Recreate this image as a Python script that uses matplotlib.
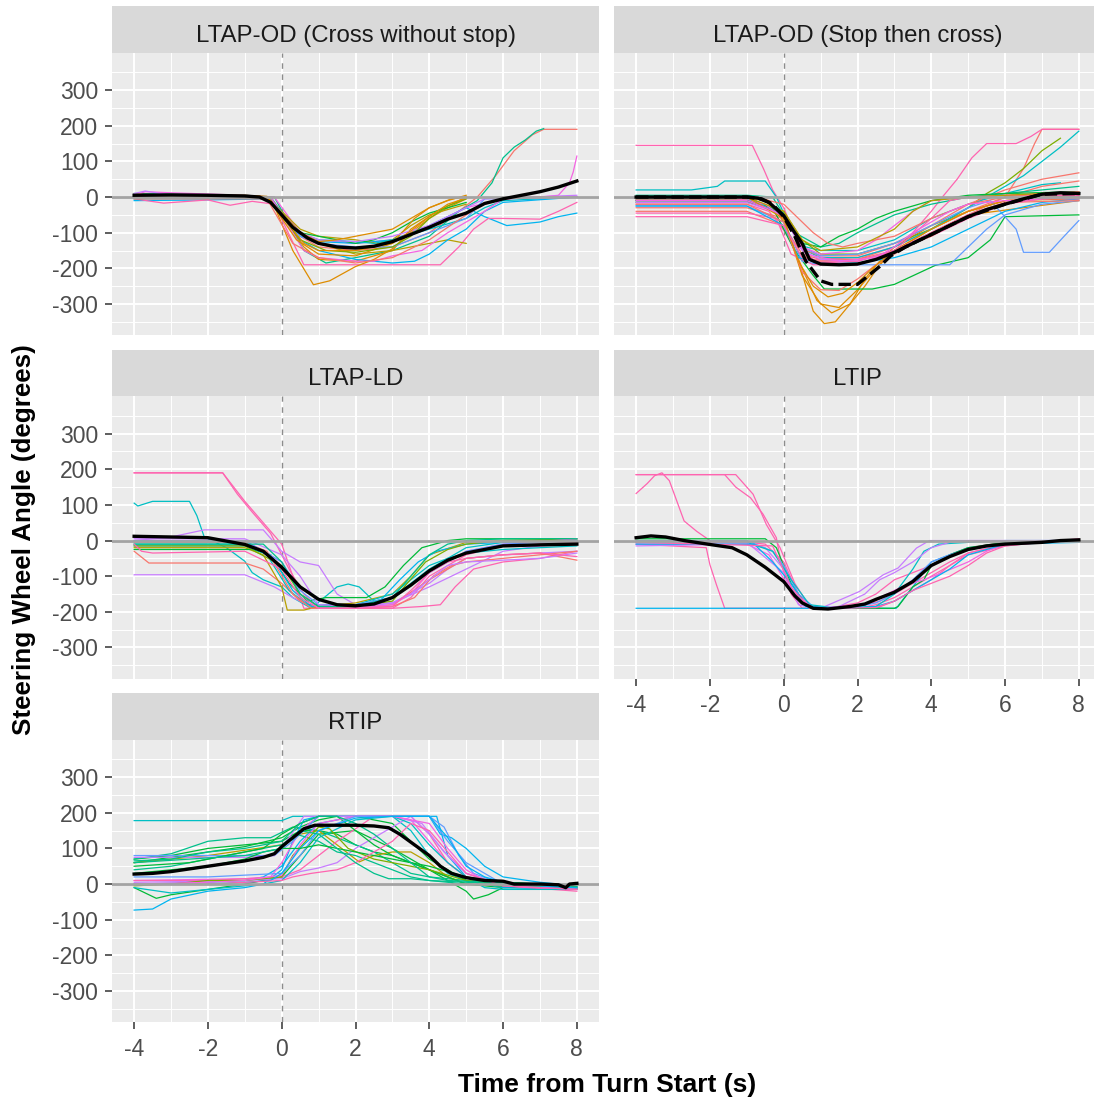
import matplotlib
matplotlib.use("Agg")
import matplotlib.pyplot as plt

plt.rcParams['axes.unicode_minus'] = False
plt.rcParams['font.family'] = ['Liberation Sans', 'DejaVu Sans']

# ---------------- data ----------------
PANEL_TITLES = ['LTAP-OD (Cross without stop)', 'LTAP-OD (Stop then cross)',
                'LTAP-LD', 'LTIP', 'RTIP']
X_MAJOR = [-4, -2, 0, 2, 4, 6, 8]
X_TICK_LABELS = ['-4', '-2', '0', '2', '4', '6', '8']
X_MINOR = [-3, -1, 1, 3, 5, 7]
Y_MAJOR = [-300, -200, -100, 0, 100, 200, 300]
Y_TICK_LABELS = ['-300', '-200', '-100', '0', '100', '200', '300']
Y_MINOR = [-350, -250, -150, -50, 50, 150, 250, 350]

PALETTE = ['#F8766D', '#DE8C00', '#B79F00', '#7CAE00', '#00BA38', '#00C08B',
           '#00BFC4', '#00B4F0', '#619CFF', '#C77CFF', '#F564E3', '#FF64B0']

# (participant, time breakpoints, angle values)
OD_CROSS = [
    (0, [-4,-1,-0.3,0.5,1,2,3,4,4.8,5.3,5.8,6.3,6.8,7.1,8], [0,2,0,-110,-140,-150,-140,-100,-40,0,60,130,175,190,190]),
    (5, [-4,-1,-0.2,0.6,1.2,2,3,4,4.8,5.3,5.7,6,6.3,6.6,6.9,7.1], [10,5,0,-150,-185,-170,-150,-110,-40,-10,40,110,140,160,185,192]),
    (10, [-4,-3.7,-3,-1,-0.2,0.5,1,2,3,4,5,6,7,7.5,7.8,7.9,8], [5,15,12,5,0,-100,-120,-130,-120,-80,-30,-5,0,5,40,70,115]),
    (7, [-4,-2,-0.3,0.5,1,2,3,4,5,5.5,6.1,7,7.5,8], [-10,-8,-5,-110,-125,-130,-120,-80,-30,-55,-80,-70,-55,-45]),
    (11, [-4,-3.2,-2,-1.4,-0.8,-0.2,0.6,4.3,4.8,5.2,5.6,6,7,7.5,8], [-5,-17,-8,-23,-12,-20,-190,-190,-140,-90,-60,-60,-62,-40,-15]),
    (1, [-4,-1,-0.3,0.3,0.86,1.3,2,2.5,3,3.5,4,4.5,5], [0,3,0,-150,-246,-235,-195,-175,-145,-100,-60,-30,-5]),
    (1, [-4,-1,-0.3,0.6,1,2,3,3.5,4.2,5], [5,5,0,-140,-175,-180,-150,-90,-40,0]),
    (2, [-4,-0.4,0.5,1,2,2.6,3,3.5,4,5], [0,0,-90,-110,-120,-130,-120,-80,-50,-20]),
    (2, [-4,-0.4,0.5,1,2,3,4,4.5,5], [3,0,-100,-130,-160,-150,-130,-120,-130]),
    (4, [-4,-0.4,0.5,1,2,2.5,3,3.5,4,5], [0,0,-100,-110,-130,-120,-100,-70,-45,-15]),
    (6, [-4,-0.4,0.4,1,2,2.5,3,4,5,5.5,6,8], [-5,-3,-100,-120,-125,-130,-120,-90,-60,-30,-10,0]),
    (7, [-4,-0.3,0.5,1,2,3,3.6,4,4.5,5,5.5,6,8], [0,0,-120,-150,-175,-185,-180,-160,-120,-90,-40,-15,0]),
    (10, [-4,-0.3,0.6,1,2,2.5,3,3.8,4.5,5,5.5,6,8], [0,0,-150,-170,-180,-180,-165,-150,-100,-70,-40,-5,0]),
    (1, [-4,-0.4,0.4,1,2,3,3.6,4,4.6,5], [8,2,-120,-160,-165,-130,-60,-30,-5,0]),
    (8, [-4,-0.4,0.5,1,2,3,4,5,5.5,8], [0,0,-110,-130,-140,-140,-100,-60,-5,0]),
    (9, [-4,-3.7,-3,-0.4,0.5,1,2,3,4,5,5.5,8], [10,17,5,0,-100,-120,-125,-110,-80,-30,-5,5]),
    (3, [-4,-0.4,0.5,1.2,2,3,3.5,4,4.5,5], [0,0,-120,-150,-155,-140,-110,-60,-25,-5]),
    (0, [-4,-0.4,0.3,1,2,3,4,5,5.5,6,7,8], [-5,-5,-130,-170,-185,-170,-120,-50,-20,-5,0,0]),
    (1, [-4,-0.4,0.5,1,1.5,2,3,3.5,4,4.5,5], [0,0,-100,-125,-120,-110,-90,-60,-30,-10,5]),
    (1, [-4,-0.4,0.6,1,2,3,3.5,4,4.5,5], [0,0,-130,-150,-150,-130,-95,-55,-20,-3]),
]
OD_CROSS_MEAN_T = [-4,-3,-2,-1,-0.6,-0.3,0,0.3,0.7,1,1.5,2,2.5,3,3.5,4,4.5,5,5.5,6,6.5,7,7.5,8]
OD_CROSS_MEAN_V = [5,6,5,3,0,-15,-50,-85,-115,-130,-140,-143,-138,-125,-105,-85,-62,-45,-18,-5,5,15,28,45]

OD_STOP = [
    (11, [-4,-0.85,-0.55,-0.3,0,0.4,0.8,2,3,4,5,6,7,8], [145,145,80,20,-30,-130,-180,-180,-150,-110,-60,-20,0,5]),
    (6, [-4,-2.5,-1.8,-1.6,-0.5,-0.2,0.2,0.6,1,2,3,4,5,6,7,7.5], [20,20,30,45,45,0,-90,-140,-150,-150,-120,-60,-20,10,35,40]),
    (1, [-4,-1,-0.5,0,0.4,0.8,1.1,1.4,1.8,2.2,2.6,3,3.5,4,5,6,7,8], [0,0,-10,-60,-180,-320,-355,-350,-300,-230,-180,-140,-110,-80,-40,-10,0,0]),
    (1, [-4,-1,-0.4,0,0.5,0.9,1.3,1.8,2.2,2.6,3,4,5,6,8], [0,0,-10,-70,-200,-290,-325,-300,-250,-190,-150,-90,-40,-10,-5]),
    (1, [-4,-0.5,0,0.5,1,1.5,2,2.5,3,4,5,8], [-5,-5,-60,-220,-300,-310,-260,-200,-150,-100,-50,-10]),
    (0, [-4,-0.8,-0.3,0.3,0.8,2,3,4,5,5.5,6,6.5,6.8,7,8], [-10,-10,-30,-150,-180,-175,-140,-90,-40,-20,0,80,150,190,190]),
    (11, [-4,-1,-0.4,0.2,0.8,2,3,3.5,4,4.3,4.7,5.1,5.5,6.3,6.7,7,8], [-20,-20,-40,-120,-175,-170,-140,-100,-40,0,50,110,150,150,170,190,190]),
    (3, [-4,-1,0,0.5,1,2,3,4,5,5.5,6,6.5,7,7.5], [-5,-5,-40,-120,-160,-160,-130,-90,-30,10,40,80,130,165]),
    (6, [-4,-0.8,0,0.6,1,2,3,4,5,5.5,6,6.5,7,7.5,8], [-10,-10,-50,-150,-170,-170,-140,-90,-30,0,30,60,100,140,185]),
    (0, [-4,-1,0,0.6,1,2,3,4,5,6,7,8], [-30,-30,-60,-150,-165,-165,-130,-80,-20,20,50,68]),
    (0, [-4,-1,0,0.5,1,2,3,4,5,6,7,8], [-40,-40,-80,-160,-175,-175,-150,-110,-50,0,30,45]),
    (4, [-4,-1,-0.3,0.3,0.8,1.1,2.4,3,4.1,5,5.6,6,8], [-15,-15,-30,-150,-220,-258,-258,-245,-192,-170,-120,-55,-50]),
    (8, [-4,-1,0,0.5,1,2,3,4,5,5.6,6.3,6.5,7.2,7.6,8], [-5,-5,-50,-140,-165,-160,-130,-80,-30,-10,-90,-155,-155,-110,-66]),
    (8, [-4,-1,0,0.5,1,2,3,4.5,5,5.5,6,7,8], [-25,-25,-70,-180,-190,-190,-190,-190,-140,-90,-50,-20,-10]),
    (10, [-4,-1.5,-0.5,0,0.5,1,2,2.5,3,3.5,4,5,6,7,8], [0,0,-20,-60,-140,-160,-150,-120,-80,-40,-10,0,5,10,10]),
    (5, [-4,-1,-0.3,0.3,1,1.5,2,3,4,5,6,7,8], [5,5,0,-100,-140,-130,-100,-50,-20,0,10,20,30]),
    (4, [-4,-1,0,0.5,1,1.5,2,2.5,3,4,5,6,8], [-10,-10,-50,-130,-140,-110,-90,-60,-40,-10,5,10,15]),
    (9, [-4,-1,0,0.5,1,2,3,4,5,6,7,8], [-15,-15,-50,-150,-175,-180,-150,-100,-50,-15,-5,0]),
    (11, [-4,-1,-0.2,0.2,0.8,2,3,4,4.5,5,6,8], [-45,-45,-60,-160,-190,-190,-150,-60,-10,0,5,5]),
    (0, [-4,-0.6,0,0.4,0.8,1.2,1.6,2,3,4,5,6,7,8], [-5,-5,-20,-60,-100,-130,-140,-130,-110,-60,-20,0,10,15]),
    (2, [-4,-1,0,0.5,1,2,3,3.5,4,5,6,7,8], [0,0,-40,-120,-150,-140,-90,-40,-10,0,5,10,10]),
    (7, [-4,-1,0,0.4,1,2,3,4,5,6,7,8], [-25,-25,-80,-170,-185,-185,-170,-140,-90,-40,-15,-5]),
    (0, [-4,-1,0,0.5,1,1.5,2,2.5,3,4,5,6,8], [-20,-20,-70,-210,-260,-262,-230,-190,-160,-100,-50,-15,-10]),
    (1, [-4,-1,0,0.4,0.8,1.2,1.6,2,2.4,3,4,5,6,8], [0,0,-60,-180,-250,-280,-270,-240,-200,-150,-90,-40,-10,0]),
    (11, [-4,-2.7,-1,0,0.5,1,2,3,4,5,6,7,8], [-55,-55,-55,-80,-170,-185,-180,-150,-100,-50,-20,-5,-5]),
    (10, [-4,-1,0,0.6,1.5,2.5,3,3.5,4,4.5,5,6,7,8], [-10,-10,-50,-160,-180,-170,-140,-100,-70,-40,-20,-10,-5,0]),
]
OD_STOP_MEAN_T = [-4,-2,-1,-0.7,-0.4,0,0.3,0.5,0.7,1,1.5,2,2.5,3,3.5,4,4.5,5,5.5,6,6.5,7,7.5,8]
OD_STOP_MEAN_V = [0,0,0,-3,-15,-52,-100,-130,-175,-188,-190,-188,-175,-155,-130,-105,-80,-55,-35,-20,-5,8,12,10]
OD_STOP_MEAN2_T = [-4,-1,-0.6,-0.3,0,0.3,0.6,1.0,1.3,2.0,2.3,2.6,2.9,3.3,4,5,6,7,8]
OD_STOP_MEAN2_V = [0,0,-5,-20,-55,-110,-180,-235,-245,-245,-220,-195,-165,-140,-105,-55,-20,8,10]

LD = [
    (11, [-4,-1.6,-1.3,-1,-0.5,0,0.3,0.6,2,3,3.5,4,5,6,7,8], [190,190,150,110,50,-10,-100,-190,-190,-190,-160,-100,-40,-15,-10,-5]),
    (11, [-4,-1.6,-1.2,-0.8,-0.3,0.2,0.6,1,3,3.8,4.3,4.7,5.2,6,7,8], [190,190,130,80,20,-80,-150,-190,-190,-185,-180,-130,-80,-60,-50,-30]),
    (6, [-4,-3.9,-3.5,-2.5,-2.3,-2.1,-1.5,-1,-0.8,-0.5,0,0.3,0.8,1.5,1.8,2.1,2.5,3,4,5,6,8],
        [105,97,110,110,70,10,-20,-58,-90,-110,-130,-160,-190,-130,-122,-130,-170,-160,-80,-20,-5,0]),
    (9, [-4,-1,-0.2,0.3,0.8,1.3,2,3,4,4.5,5,6,8], [-96,-96,-130,-160,-185,-190,-190,-175,-120,-80,-50,-40,-30]),
    (9, [-4,-3,-2.1,-0.5,0,0.5,1,1.5,2,3,4,5,6,7,8], [0,10,30,30,-30,-60,-70,-150,-180,-175,-130,-80,-30,-15,-10]),
    (0, [-4,-3.6,-1,-0.5,0,0.5,1,2,3,4,5,6,7,8], [-30,-63,-63,-80,-120,-170,-190,-190,-180,-110,-50,-40,-35,-55]),
    (2, [-4,-1,-0.5,0,0.15,0.6,1,2,3,3.5,4,5,6,8], [-20,-20,-40,-130,-195,-195,-185,-175,-150,-100,-40,-5,0,5]),
    (4, [-4,-0.8,-0.3,0.2,0.7,1.2,1.6,2.3,2.8,3.3,3.8,4.5,5,6,8], [-25,-25,-40,-120,-170,-160,-160,-160,-130,-70,-20,0,5,5,5]),
    (7, [-4,-1,-0.3,0.3,0.8,2,2.7,3.2,3.7,4.2,5,6,8], [-15,-15,-40,-140,-185,-185,-165,-110,-60,-30,-10,-5,0]),
    (6, [-4,-1,-0.4,0.2,0.7,2,3,3.5,4,4.5,5,6,7,8], [-10,-10,-40,-140,-180,-180,-150,-110,-70,-50,-35,-25,-20,-15]),
    (0, [-4,-1,-0.4,0.3,0.8,2,3,3.6,4.1,4.6,5,6,7,8], [-5,-5,-30,-150,-190,-190,-185,-160,-100,-70,-60,-50,-40,-30]),
    (10, [-4,-1,0,0.5,1,2,3,3.5,4,5,6,8], [0,0,-60,-150,-190,-190,-180,-150,-90,-30,-10,5]),
    (3, [-4,-1,0,0.5,1,2,3,3.4,3.9,4.5,5,6,8], [-15,-15,-70,-150,-185,-185,-170,-120,-60,-25,-10,0,0]),
    (8, [-4,-1,0,0.5,1,2,3,4,5,6,8], [0,0,-60,-140,-180,-180,-160,-90,-30,-10,0]),
    (9, [-4,-1,0,0.5,1,2,3,3.5,4,4.5,5,6,7,8], [5,5,-40,-100,-180,-185,-175,-150,-110,-70,-60,-55,-50,-35]),
    (5, [-4,-0.5,0,0.5,1,2,3,3.5,4,4.5,5,6,8], [-10,-10,-60,-150,-185,-185,-160,-100,-40,-10,0,5,5]),
    (11, [-4,-3.8,-3.5,-1,0,0.5,1,2,3,3.5,4,4.5,5,6,7,8], [-10,-30,-35,-30,-80,-160,-190,-190,-185,-140,-90,-60,-50,-40,-35,-45]),
]
LD_MEAN_T = [-4,-3,-2,-1,-0.5,0,0.5,1,1.5,2,2.5,3,3.5,4,4.5,5,5.5,6,7,8]
LD_MEAN_V = [12,10,8,-11,-30,-75,-130,-165,-180,-183,-178,-160,-125,-85,-55,-35,-25,-15,-12,-10]

LTIP = [
    (11, [-4,-1.6,-1.3,-0.9,-0.56,-0.2,-0.06,0.2,0.5,1,2,2.5,3,3.5,4,4.5,5,6,7,8], [185,185,150,120,74,8,-68,-150,-190,-190,-190,-180,-160,-130,-100,-70,-40,-15,-5,0]),
    (11, [-4,-1.3,-0.83,-0.47,-0.1,0.3,0.7,1,2.5,3,3.5,4,4.5,5,6,7,8], [185,185,130,45,-20,-120,-185,-190,-190,-170,-140,-110,-70,-35,-10,-5,0]),
    (11, [-4,-3.7,-3.5,-3.3,-3.1,-2.7,-2.36,-2,-1,-0.5,0,0.4,0.8,1.2,2,2.5,3,3.5,4,4.5,5,6,8],
         [132,160,182,190,168,55,26,0,-5,-10,-60,-150,-190,-190,-175,-150,-110,-90,-70,-40,-20,-5,0]),
    (11, [-4,-2.1,-2.0,-1.82,-1.6,1,2,2.6,3,3.5,4,4.5,5,6,7,8], [-10,-20,-68,-125,-190,-190,-185,-170,-150,-120,-90,-60,-35,-10,-5,5]),
    (7, [-4,3.05,3.5,4,4.5,5,6,7,8], [-190,-190,-130,-60,-40,-20,-10,-5,-5]),
    (9, [-4,-1,-0.5,0,0.3,0.6,1,2.05,2.7,3.1,3.6,3.95,8], [-15,-10,-20,-80,-150,-185,-190,-143,-96,-77,-21,0,0]),
    (4, [-4,-0.5,-0.2,0.2,0.6,1,2,3,3.1,3.5,3.8,4,4.5,5,6,8], [5,5,-20,-120,-180,-190,-190,-190,-185,-130,-110,-70,-40,-20,-5,0]),
    (8, [-4,-1,-0.3,0,0.4,0.8,1.5,2,2.5,3,3.5,4,4.5,5,6,8], [0,0,-30,-70,-150,-185,-190,-185,-175,-150,-110,-60,-40,-25,-10,0]),
    (6, [-4,-1,-0.3,0.2,0.7,1.5,2.5,3,3.5,3.8,4.2,5,6,8], [-5,-5,-30,-110,-180,-190,-185,-150,-80,-30,-10,-5,0,0]),
    (10, [-4,-1,-0.4,0.2,0.8,1.5,2.3,2.8,3.3,3.8,4.3,5,5.5,6,8], [-10,-10,-40,-140,-190,-190,-175,-150,-125,-110,-90,-60,-30,-10,0]),
    (9, [-4,-1,0,0.4,0.8,1.5,2.2,2.6,3,3.5,4,4.5,5,8], [-5,-5,-90,-180,-190,-185,-150,-110,-90,-60,-20,-5,0,0]),
    (7, [-4,-0.8,-0.3,0.2,0.6,1.5,2.5,3,3.5,4,4.5,5,6,8], [-10,-10,-60,-120,-185,-190,-185,-170,-140,-110,-80,-40,-10,-5]),
    (11, [-4,-0.3,0.2,0.7,1.5,2.5,3,3.5,4,4.5,5,5.5,6,7,8], [-5,-15,-130,-190,-190,-188,-170,-140,-120,-100,-70,-35,-15,-5,0]),
]
LTIP_MEAN_T = [-4,-3.6,-3.2,-2.7,-2,-1.4,-1,-0.5,0,0.3,0.5,0.8,1.2,1.8,2.2,2.5,3,3.5,4,4.5,5,5.5,6,7,7.5,8]
LTIP_MEAN_V = [8,13,10,0,-11,-20,-40,-75,-115,-155,-175,-190,-192,-185,-178,-165,-145,-115,-70,-45,-25,-15,-10,-5,0,2]

RTIP = [
    (6, [-4,0,0.3,1,2,3,3.5,4,4.5,5,6,8], [178,178,190,190,190,190,150,80,30,10,-5,-10]),
    (4, [-4,-3,-2,-1,-0.5,0,0.5,1,1.5,2,2.5,3,3.5,4,4.5,5,5.2,5.6,6,7,8], [70,80,100,110,115,120,150,150,140,110,90,80,60,40,10,-20,-42,-30,-10,-5,-10]),
    (4, [-4,-3,-2,-1,0,0.5,1,1.5,2,3,3.5,4,5,6,8], [60,75,90,105,130,160,180,190,190,170,120,70,10,0,-10]),
    (5, [-4,-3,-2,-1,-0.3,0.3,1,1.5,2,2.5,3,3.5,4,4.5,5,6,8], [70,85,120,130,130,160,150,130,110,90,60,30,20,15,10,5,-5]),
    (4, [-4,-3.4,-3,-2,-1,0,0.5,1,2,3,3.5,4,5,6,8], [-10,-40,-30,-15,0,20,80,140,150,100,70,40,0,-10,-10]),
    (7, [-4,-3.5,-3,-2,-1,-0.5,0,0.3,0.6,1,2,3,4,4.2,4.5,5,5.5,6,8], [-73,-70,-42,-20,-10,0,40,120,180,190,190,190,190,190,80,20,0,-10,-15]),
    (7, [-4,-2,-1,-0.5,0,0.5,1,2,3,4,4.3,4.6,5,5.5,6,7,8], [0,5,10,20,50,120,170,190,190,190,140,130,100,50,20,5,-5]),
    (2, [-4,-3,-2,-1,0,0.5,1,1.5,2.1,2.5,3,3.5,4,4.5,5,6,8], [60,70,80,95,110,140,150,110,62,80,90,90,60,20,0,-5,-10]),
    (10, [-4,-1,-0.3,0,0.5,1,1.5,2,3,3.5,4,4.5,5,6,8], [10,15,20,60,150,190,190,190,190,180,120,60,20,0,-10]),
    (11, [-4,-2,-1,0,0.5,1,1.5,2.5,3,3.5,4,4.5,5,6,8], [10,10,15,20,40,80,120,190,190,190,140,60,20,-5,-20]),
    (9, [-4,-2,-1,0,0.5,1,1.5,2,3,3.5,4,4.5,5,6,8], [5,8,10,15,35,45,60,100,160,190,140,80,30,0,-10]),
    (8, [-4,-2,-1,-0.2,0.3,1,2,3,4,4.4,4.8,5.2,6,8], [80,80,80,80,120,190,190,190,190,160,80,30,0,-15]),
    (9, [-4,-2,-1,-0.2,0.2,0.6,1,2,3,3.8,4.4,5,6,8], [75,75,75,80,130,190,190,190,190,170,90,30,-5,-10]),
    (6, [-4,-3,-2,-1,-0.5,0,0.5,1,2,3,3.5,4,4.5,5,5.5,6,8], [-10,-25,-15,-5,0,10,60,130,180,190,170,110,60,20,-10,-15,-15]),
    (5, [-4,-3,-2,-1,0,0.4,1,1.5,2,2.5,3,3.5,4,5,6,8], [40,50,70,90,110,140,120,90,80,60,40,20,10,0,-5,-10]),
    (4, [-4,-2.5,-1.5,-0.5,0,0.5,1,1.5,2,2.5,3,3.5,4,4.5,5,6,8], [50,60,80,100,140,170,190,190,150,110,80,60,40,20,0,-5,-5]),
    (3, [-4,-3,-2,-1,0,0.3,1,1.3,1.8,2.5,3,4,5,6,8], [-5,0,10,10,20,80,160,155,100,70,60,40,10,0,-10]),
    (10, [-4,-2,-1,0,0.5,1,2,3,4,4.5,5,5.5,6,8], [0,5,10,25,110,170,190,190,170,100,40,10,-5,-15]),
    (8, [-4,-2,-1,0,0.5,1,2,3,4,4.5,5,5.5,6,8], [20,20,25,30,80,150,190,190,190,120,60,30,0,-10]),
    (7, [-4,-2,-1,-0.3,0,0.5,1,2,3,4,4.5,5,5.5,6,7,8], [0,0,5,10,30,100,150,185,190,190,130,50,20,5,-5,-10]),
    (4, [-4,-2,-1,-0.5,0,0.5,1,1.5,2,3,4,5,6,8], [30,50,70,90,100,100,110,100,90,70,50,20,5,-5]),
    (5, [-4,-3,-2,-1,0,0.5,1,1.5,2,2.5,3,3.5,4,4.5,8], [65,70,90,100,120,170,190,190,170,140,100,60,20,10,-5]),
    (11, [-4,-2,0,0.3,0.8,1.5,2,3,3.5,4,4.5,5,6,8], [0,0,10,20,30,40,60,120,170,150,90,30,-5,-15]),
    (5, [-4,-1,0,0.5,1,1.5,2,2.5,2.9,3.5,4,5,6,8], [60,80,100,150,140,100,60,30,15,15,10,5,0,-5]),
]
RTIP_MEAN_T = [-4,-3.5,-3,-2,-1,-0.5,-0.2,0,0.3,0.6,0.9,1.5,2,2.5,2.9,3.2,3.6,4,4.3,4.6,5,5.5,6,6.3,7,7.5,7.7,7.8,8]
RTIP_MEAN_V = [28,30,35,50,65,75,85,105,130,155,165,165,165,163,158,140,110,80,50,30,18,10,8,0,0,-2,-10,0,2]

# ---------------- layout ----------------
FIG_W, FIG_H = 1094, 1099
COL_LEFT = [112, 614]
PANEL_W = 487
ROW_TOP = [52.7, 396.2, 739.7]
PANEL_H = 282.3
STRIP_H = 46.5


def rect(x0, ytop, w, h):
    return [x0 / FIG_W, 1 - (ytop + h) / FIG_H, w / FIG_W, h / FIG_H]


fig = plt.figure(figsize=(FIG_W / 100, FIG_H / 100), dpi=100)
fig.patch.set_facecolor('white')

panels = [
    (0, 0, OD_CROSS, [(OD_CROSS_MEAN_T, OD_CROSS_MEAN_V, '-')]),
    (0, 1, OD_STOP, [(OD_STOP_MEAN2_T, OD_STOP_MEAN2_V, '--'), (OD_STOP_MEAN_T, OD_STOP_MEAN_V, '-')]),
    (1, 0, LD, [(LD_MEAN_T, LD_MEAN_V, '-')]),
    (1, 1, LTIP, [(LTIP_MEAN_T, LTIP_MEAN_V, '-')]),
    (2, 0, RTIP, [(RTIP_MEAN_T, RTIP_MEAN_V, '-')]),
]
SHOW_X = {(1, 1), (2, 0)}

for i, (r, c, traces, means) in enumerate(panels):
    x0 = COL_LEFT[c]
    ytop = ROW_TOP[r]
    ax = fig.add_axes(rect(x0, ytop, PANEL_W, PANEL_H))
    ax.set_facecolor('#EBEBEB')
    ax.set_xlim(-4.6, 8.6)
    ax.set_ylim(-387, 405)
    ax.set_xticks(X_MAJOR)
    ax.set_xticks(X_MINOR, minor=True)
    ax.set_yticks(Y_MAJOR)
    ax.set_yticks(Y_MINOR, minor=True)
    ax.set_xticklabels(X_TICK_LABELS)
    ax.set_yticklabels(Y_TICK_LABELS)
    ax.grid(which='major', color='white', lw=1.4)
    ax.grid(which='minor', color='white', lw=0.7)
    ax.set_axisbelow(True)
    for s in ax.spines.values():
        s.set_visible(False)
    ax.tick_params(which='minor', length=0)
    ax.tick_params(which='major', length=5, width=1.1, color='#333333',
                   labelsize=16.5, labelcolor='#4D4D4D')
    ax.tick_params(axis='y', pad=5)
    ax.tick_params(axis='x', pad=6.5)
    if (r, c) not in SHOW_X:
        ax.tick_params(axis='x', which='both', length=0, labelbottom=False)
    if c != 0:
        ax.tick_params(axis='y', which='both', length=0, labelleft=False)

    ax.axvline(0, color='#8C8C8C', lw=1.0, ls=(0, (4, 4)), zorder=2)
    for pid, tt, vv in traces:
        ax.plot(tt, vv, color=PALETTE[pid], lw=0.9, zorder=3, solid_joinstyle='round')
    ax.axhline(0, color='#A3A3A3', lw=2.0, zorder=4)
    for tt, vv, ls in means:
        ax.plot(tt, vv, color='black', lw=2.4, ls=ls, zorder=5)

    sax = fig.add_axes(rect(x0, ytop - STRIP_H, PANEL_W, STRIP_H))
    sax.set_facecolor('#D9D9D9')
    sax.set_xticks([])
    sax.set_yticks([])
    for s in sax.spines.values():
        s.set_visible(False)
    sax.text(0.5, 0.235, PANEL_TITLES[i], ha='center', va='baseline',
             fontsize=17.3, color='#1A1A1A', transform=sax.transAxes)

fig.text(607 / FIG_W, 1 - 1085 / FIG_H, 'Time from Turn Start (s)', ha='center',
         va='center', fontsize=19, fontweight='bold', color='black')
fig.text(24 / FIG_W, 1 - 540 / FIG_H, 'Steering Wheel Angle (degrees)', ha='center',
         va='center', fontsize=18.7, fontweight='bold', rotation=90, color='black')

fig.savefig('out.png', dpi=100, facecolor='white')
